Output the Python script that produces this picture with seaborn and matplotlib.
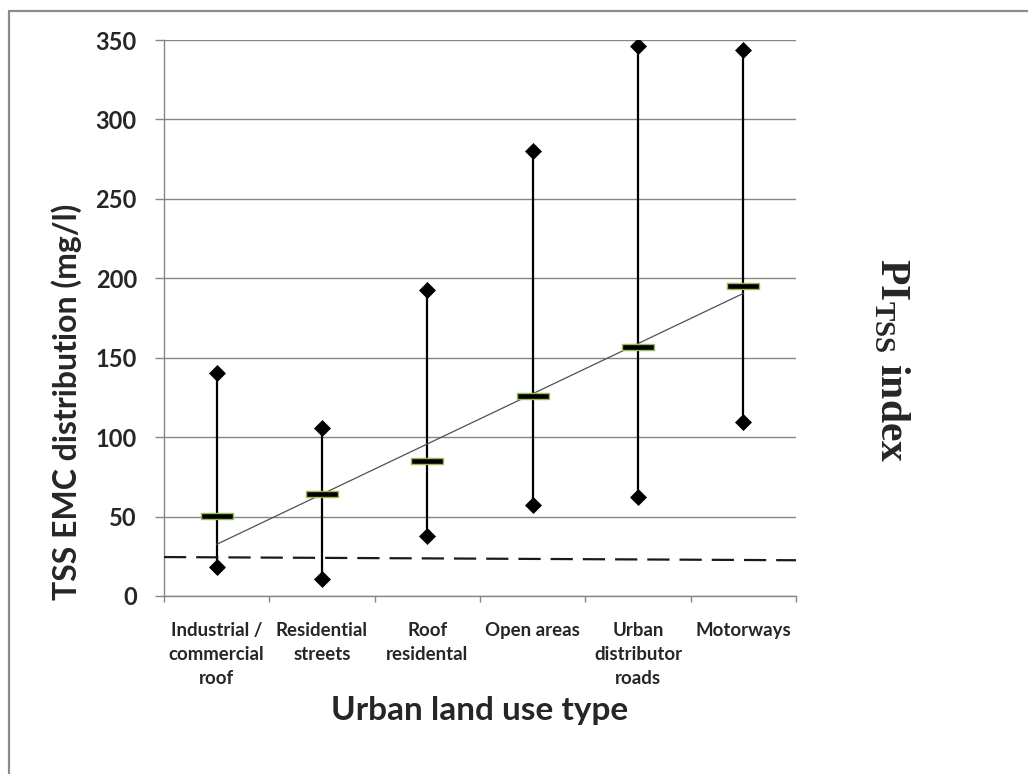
import numpy as np
import pandas as pd
import matplotlib
matplotlib.use("Agg")
import matplotlib.pyplot as plt
import seaborn as sns
from matplotlib.lines import Line2D

# --- data ---
categories = ["Industrial /\ncommercial\nroof", "Residential\nstreets", "Roof\nresidental",
              "Open areas", "Urban\ndistributor\nroads", "Motorways"]
emc_max = [140.5, 105.5, 192.5, 280, 346.5, 343.5]
emc_mean = [50.5, 64.5, 85, 126, 157, 195]
emc_min = [18, 11, 38, 57, 62, 109.5]
pi_tss_ends = [32.5, 190.5]      # PI_TSS index line, first and last category
dashed_ends = [24.5, 22.5]       # dashed reference line, left and right axis edge

sns.set_theme(style="white")
plt.rcParams['font.family'] = ['Lato', 'DejaVu Sans']
plt.rcParams['mathtext.fontset'] = 'custom'
plt.rcParams['mathtext.rm'] = 'Liberation Serif:bold'

grid_col = "#868686"
x = np.arange(len(categories))
df = pd.DataFrame({"x": x, "max": emc_max, "mean": emc_mean, "min": emc_min})

fig = plt.figure(figsize=(10.28, 7.74), dpi=100)
ax = fig.add_axes([0.1595, 0.2300, 0.6148, 0.7183])
ax.set_xlim(-0.5, len(categories) - 0.5)
ax.set_ylim(0, 350)

# range lines
ax.vlines(df["x"], df["min"], df["max"], color="black", lw=1.6, zorder=3)

# min / max diamonds
ends = pd.concat([df[["x", "max"]].rename(columns={"max": "v"}),
                  df[["x", "min"]].rename(columns={"min": "v"})])
sns.scatterplot(data=ends, x="x", y="v", marker="D", s=75, color="black",
                edgecolor="black", linewidth=0, ax=ax, zorder=4)

# PI_TSS trend line
trend = pd.DataFrame({"x": [x[0], x[-1]], "v": pi_tss_ends})
sns.lineplot(data=trend, x="x", y="v", color="#505050", lw=0.9, ax=ax, zorder=3)

# dashed line across the plot
xl = ax.get_xlim()
dash = pd.DataFrame({"x": list(xl), "v": dashed_ends})
sns.lineplot(data=dash, x="x", y="v", color="#1a1a1a", lw=1.6, ax=ax,
             dashes=False, zorder=3).lines[-1].set_dashes((10, 4.5))

# mean bars
bar_marker = [(-1, -0.19), (1, -0.19), (1, 0.19), (-1, 0.19), (-1, -0.19)]
sns.scatterplot(data=df, x="x", y="mean", marker=bar_marker, s=560,
                color="black", edgecolor="#9bbb59", linewidth=1.0, ax=ax, zorder=5)

# axes styling
ax.set_yticks(np.arange(0, 351, 50))
ax.yaxis.grid(True, color=grid_col, lw=1.0)
ax.set_axisbelow(True)
for s in ["top", "right"]:
    ax.spines[s].set_visible(False)
for s in ["left", "bottom"]:
    ax.spines[s].set_color(grid_col)
    ax.spines[s].set_linewidth(1.0)
ax.tick_params(axis="y", length=6.5, color=grid_col, width=1.0, pad=13,
               labelsize=17, left=True)
for t in ax.get_yticklabels():
    t.set_fontweight("bold")

ax.set_xticks(x)
ax.set_xticklabels(categories, fontsize=13.4, fontweight="bold", linespacing=1.5,
                   va="top")
ax.tick_params(axis="x", length=0, pad=19)
ax.set_xticks(np.arange(-0.5, len(categories)), minor=True)
ax.tick_params(axis="x", which="minor", length=4.5, color=grid_col, width=1.0,
               bottom=True)

ax.set_xlabel("Urban land use type", fontsize=24, fontweight="bold")
ax.xaxis.set_label_coords(0.5, -0.18)
ax.set_ylabel("TSS EMC distribution (mg/l)", fontsize=23, fontweight="bold")
ax.yaxis.set_label_coords(-0.13, 0.35)

fig.text(0.868, 0.534, r"PI$_{\mathrm{TSS}}$ index", rotation=-90, fontsize=30,
         family="Liberation Serif", fontweight="bold", ha="center", va="center")

# outer frame of the chart area
fig.add_artist(Line2D([8.5 / 1028, 1], [1 - 11 / 774, 1 - 11 / 774],
                      color="#8c8c8c", lw=1.6, transform=fig.transFigure))
fig.add_artist(Line2D([8.5 / 1028, 8.5 / 1028], [0, 1 - 11 / 774],
                      color="#8c8c8c", lw=1.6, transform=fig.transFigure))

fig.savefig("out.png", dpi=100)
